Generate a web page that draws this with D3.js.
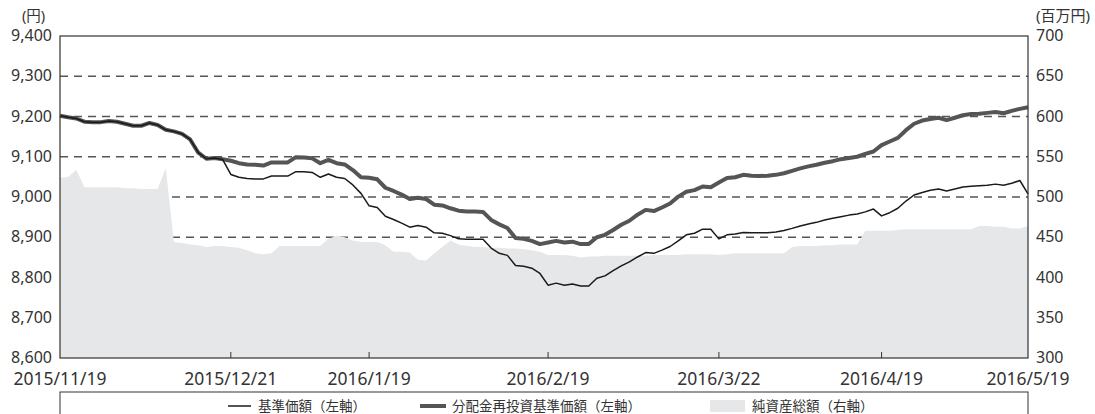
<!DOCTYPE html>
<html>
<head>
<meta charset="utf-8">
<script src="https://cdn.jsdelivr.net/npm/d3@7"></script>
<style>
  body { margin: 0; background: #fff; }
  text { font-family: "Noto Sans", "Noto Sans CJK JP", sans-serif; fill: #333; }
</style>
</head>
<body>
<div id="chart"></div>
<script>
// business days of the fund (weekdays minus Japanese holidays)
var startDate = "2015-11-19", endDate = "2016-05-19";
var holidays = ["2015-11-23", "2015-12-23", "2015-12-31", "2016-01-01", "2016-01-11",
  "2016-02-11", "2016-03-21", "2016-04-29", "2016-05-03", "2016-05-04", "2016-05-05"];

// 基準価額 (円)
var navValues = [9202,9198,9195,9187,9186,9186,9189,9187,9182,9177,
  9177,9184,9179,9167,9163,9157,9143,9110,9095,9097,
  9093,9056,9049,9046,9045,9045,9052,9052,9052,9063,
  9063,9061,9049,9057,9049,9046,9030,9009,8978,8974,
  8952,8944,8935,8925,8929,8925,8911,8910,8904,8896,
  8895,8895,8895,8873,8860,8855,8830,8828,8823,8810,
  8781,8786,8781,8784,8779,8779,8798,8804,8817,8829,
  8839,8851,8862,8860,8868,8877,8891,8906,8910,8920,
  8920,8896,8906,8908,8912,8911,8911,8911,8913,8917,
  8922,8928,8933,8937,8943,8947,8951,8955,8958,8963,
  8970,8953,8961,8972,8990,9005,9011,9017,9020,9015,
  9020,9025,9027,9028,9029,9032,9029,9034,9041,9008];

// 分配金再投資基準価額 (円)
var reinvestValues = [9202,9198,9195,9187,9186,9186,9189,9187,9182,9177,
  9177,9184,9179,9167,9163,9157,9143,9110,9095,9097,
  9094,9090,9084,9081,9080,9078,9086,9086,9086,9099,
  9098,9096,9084,9092,9084,9081,9067,9049,9048,9044,
  9023,9015,9006,8995,8998,8995,8981,8979,8972,8966,
  8964,8964,8963,8943,8932,8923,8898,8896,8891,8883,
  8887,8891,8887,8889,8883,8883,8900,8906,8918,8931,
  8941,8956,8968,8965,8974,8984,9001,9013,9017,9026,
  9024,9036,9047,9049,9055,9053,9052,9053,9055,9059,
  9065,9071,9076,9080,9085,9089,9094,9097,9100,9107,
  9113,9129,9138,9147,9166,9182,9190,9194,9197,9191,
  9197,9203,9206,9207,9209,9211,9208,9214,9219,9223];

// 純資産総額 (百万円)
var totalAssets = [524,525,534,512,512,512,512,512,511,511,
  510,510,510,536,444,443,441,440,438,439,
  439,438,437,434,430,429,430,439,439,439,
  439,439,439,448,452,450,446,444,444,444,
  440,432,432,431,422,421,430,438,446,441,
  439,438,438,437,437,436,436,435,434,432,
  428,428,428,427,425,426,426,427,427,427,
  427,427,427,428,428,428,428,429,429,429,
  429,428,429,430,430,430,430,430,430,430,
  438,439,439,439,440,440,441,441,441,458,
  458,458,458,459,460,460,460,460,460,460,
  460,460,460,464,464,463,463,461,461,464];

var tickDates = ["2015/11/19", "2015/12/21", "2016/1/19", "2016/2/19", "2016/3/22", "2016/4/19", "2016/5/19"];
var leftTicks = [8600, 8700, 8800, 8900, 9000, 9100, 9200, 9300, 9400];
var rightTicks = [300, 350, 400, 450, 500, 550, 600, 650, 700];
var legendLabels = ["基準価額（左軸）", "分配金再投資基準価額（左軸）", "純資産総額（右軸）"];

function drawChart() {
var fmtDate = d3.timeFormat("%Y/%-m/%-d");
var fmtKey = d3.timeFormat("%Y-%m-%d");
var parse = d3.timeParse("%Y-%m-%d");
var dates = d3.timeDay.range(parse(startDate), d3.timeDay.offset(parse(endDate), 1))
  .filter(function(d) { return d.getDay() != 0 && d.getDay() != 6 && holidays.indexOf(fmtKey(d)) < 0; })
  .map(fmtDate);

var width = 1095, height = 414;
var pLeft = 60, pRight = 1028, pTop = 36, pBottom = 358;

var svg = d3.select("#chart").append("svg")
  .attr("width", width)
  .attr("height", height);

var x = d3.scalePoint().domain(dates).range([pLeft, pRight]);
var yL = d3.scaleLinear().domain([8600, 9400]).range([pBottom, pTop]);
var yR = d3.scaleLinear().domain([300, 700]).range([pBottom, pTop]);

// dashed grid
svg.selectAll(".grid")
  .data(leftTicks.slice(1, -1))
  .join("line")
  .attr("x1", pLeft).attr("x2", pRight)
  .attr("y1", function(d) { return yL(d) }).attr("y2", function(d) { return yL(d) })
  .attr("stroke", "#555")
  .attr("stroke-width", 1.3)
  .attr("stroke-dasharray", "8,6");

// net assets area (right axis)
var area = d3.area()
  .x(function(d, i) { return x(dates[i]) })
  .y0(pBottom)
  .y1(function(d) { return yR(d) });
svg.append("path")
  .datum(totalAssets)
  .attr("d", area)
  .attr("fill", "#e6e7e8");

var line = d3.line()
  .x(function(d, i) { return x(dates[i]) })
  .y(function(d) { return yL(d) });

svg.append("path")
  .datum(reinvestValues)
  .attr("d", line)
  .attr("fill", "none")
  .attr("stroke", "#555")
  .attr("stroke-width", 4)
  .attr("stroke-linejoin", "round");

svg.append("path")
  .datum(navValues)
  .attr("d", line)
  .attr("fill", "none")
  .attr("stroke", "#1a1a1a")
  .attr("stroke-width", 1.5)
  .attr("stroke-linejoin", "round");

// frame
svg.append("rect")
  .attr("x", pLeft).attr("y", pTop)
  .attr("width", pRight - pLeft).attr("height", pBottom - pTop)
  .attr("fill", "none")
  .attr("stroke", "#333")
  .attr("stroke-width", 1.2);

// x ticks
svg.selectAll(".xtick")
  .data(tickDates.slice(1, -1))
  .join("line")
  .attr("x1", function(d) { return x(d) }).attr("x2", function(d) { return x(d) })
  .attr("y1", pBottom).attr("y2", pBottom - 6)
  .attr("stroke", "#333");

svg.selectAll(".xlab")
  .data(tickDates)
  .join("text")
  .attr("x", function(d) { return x(d) })
  .attr("y", 385)
  .attr("text-anchor", "middle")
  .style("font-size", "17.5px")
  .text(function(d) { return d });

svg.selectAll(".ylab")
  .data(leftTicks)
  .join("text")
  .attr("x", 52)
  .attr("y", function(d) { return yL(d) + 5 })
  .attr("text-anchor", "end")
  .style("font-size", "16px")
  .text(d3.format(","));

svg.selectAll(".rlab")
  .data(rightTicks)
  .join("text")
  .attr("x", 1036)
  .attr("y", function(d) { return yR(d) + 5 })
  .style("font-size", "16px")
  .text(function(d) { return d });

svg.append("text").attr("x", 22).attr("y", 21).style("font-size", "14.5px").text("(円)");
svg.append("text").attr("x", 1036).attr("y", 21).style("font-size", "15px").text("(百万円)");

// legend
var lg = svg.append("g");
lg.append("rect")
  .attr("x", pLeft).attr("y", 392)
  .attr("width", pRight - pLeft).attr("height", 40)
  .attr("fill", "#fff")
  .attr("stroke", "#333");
lg.append("line").attr("x1", 228).attr("x2", 251).attr("y1", 406).attr("y2", 406)
  .attr("stroke", "#1a1a1a").attr("stroke-width", 1.5);
lg.append("line").attr("x1", 420).attr("x2", 446).attr("y1", 406).attr("y2", 406)
  .attr("stroke", "#555").attr("stroke-width", 4);
lg.append("rect").attr("x", 710).attr("y", 400).attr("width", 35).attr("height", 12)
  .attr("fill", "#e6e7e8");
var lx = [258, 452, 752];
lg.selectAll(".lt")
  .data(legendLabels)
  .join("text")
  .attr("x", function(d, i) { return lx[i] })
  .attr("y", 411)
  .style("font-size", "13.5px")
  .text(function(d) { return d });
}
drawChart();
</script>
</body>
</html>
